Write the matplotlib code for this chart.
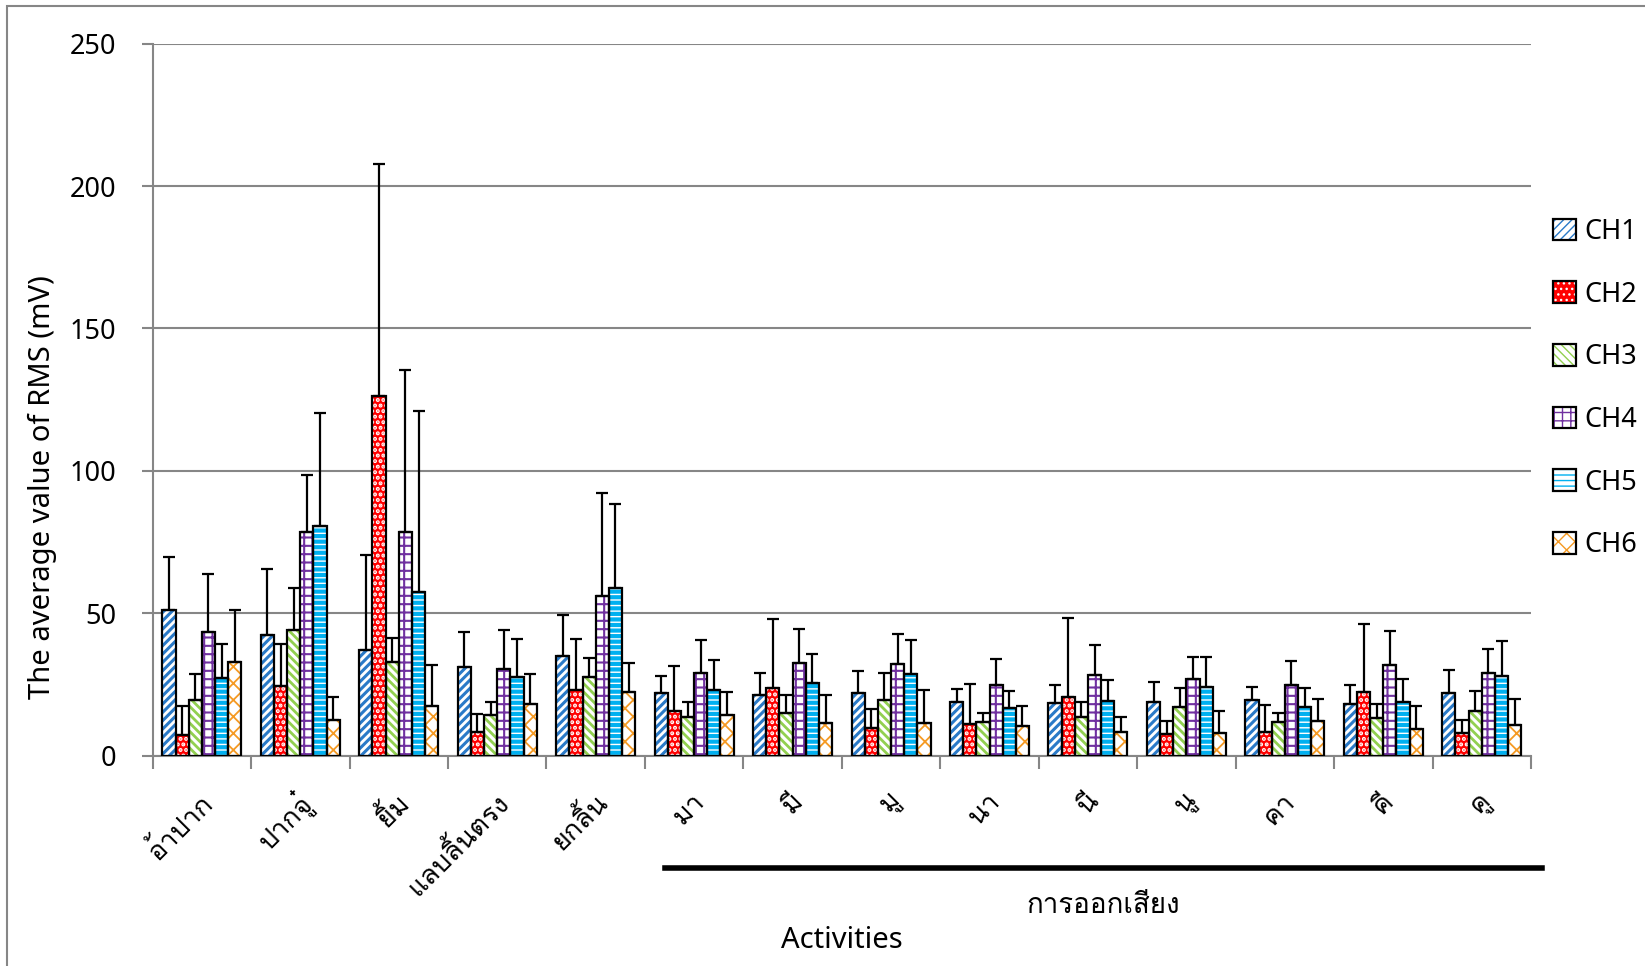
import numpy as np
import matplotlib
matplotlib.use("Agg")
import matplotlib.pyplot as plt
import matplotlib.transforms as mtransforms
from matplotlib import font_manager
from matplotlib.ft2font import FT2Font
from matplotlib.patches import Rectangle


# data (mean RMS and upper SD, mV)
categories = ["อ้าปาก", "ปากจู๋", "ยิ้ม", "แลบลิ้นตรง", "ยกลิ้น",
              "มา", "มี", "มู", "นา", "นี", "นู", "คา", "คี", "คู"]
channels = ["CH1", "CH2", "CH3", "CH4", "CH5", "CH6"]

ch1 = [51.0, 42.4, 37.2, 31.0, 35.1, 22.0, 21.4, 22.0, 18.7, 18.4, 18.9, 19.5, 18.1, 22.0]
ch2 = [7.2, 24.6, 126.4, 8.3, 22.9, 15.8, 23.7, 9.9, 11.1, 20.5, 7.6, 8.2, 22.2, 8.0]
ch3 = [19.4, 44.3, 32.9, 14.2, 27.5, 13.7, 14.9, 19.5, 11.9, 13.7, 17.0, 11.7, 13.1, 15.6]
ch4 = [43.3, 78.5, 78.5, 30.6, 56.2, 29.0, 32.7, 32.2, 24.8, 28.2, 26.9, 24.8, 31.8, 29.2]
ch5 = [27.4, 80.7, 57.4, 27.8, 59.0, 23.0, 25.5, 28.7, 16.7, 19.1, 24.2, 17.0, 18.7, 28.0]
ch6 = [32.9, 12.5, 17.4, 18.1, 22.3, 14.3, 11.5, 11.5, 10.5, 8.2, 7.8, 12.3, 9.4, 10.8]

sd1 = [18.7, 23.3, 33.4, 12.3, 14.3, 6.1, 7.7, 7.8, 4.6, 6.5, 7.1, 4.5, 6.6, 8.2]
sd2 = [10.4, 14.6, 81.5, 6.3, 18.2, 15.8, 24.4, 6.5, 14.0, 27.8, 4.7, 9.7, 24.2, 4.5]
sd3 = [9.3, 14.6, 8.6, 4.5, 6.9, 5.0, 6.5, 9.4, 3.2, 5.2, 6.6, 3.2, 5.0, 7.2]
sd4 = [20.6, 20.2, 56.9, 13.7, 36.2, 11.6, 11.9, 10.5, 9.0, 10.7, 7.8, 8.5, 12.1, 8.3]
sd5 = [11.9, 39.7, 63.8, 13.2, 29.3, 10.6, 10.2, 11.9, 5.9, 7.4, 10.5, 6.6, 8.2, 12.3]
sd6 = [18.2, 8.2, 14.3, 10.6, 10.1, 8.2, 9.9, 11.5, 7.0, 5.3, 8.0, 7.6, 8.1, 9.0]

means = [ch1, ch2, ch3, ch4, ch5, ch6]
sds = [sd1, sd2, sd3, sd4, sd5, sd6]

# looks: face colour, hatch colour, hatch, hatch line width
faces = ["white", "#ff0000", "white", "white", "white", "white"]
hatch_cols = ["#2a7ac8", "white", "#92d050", "#7030a0", "#00b0f0", "#f59a23"]
hatches = ["////", "...", "\\\\\\\\", "++", "---", "xx"]
hatch_lw = [2.2, 2.0, 2.0, 1.5, 3.0, 1.3]

speech_group = "การออกเสียง"


# find some font that can draw Thai, if there is one
def find_thai_font():
    for f in font_manager.fontManager.ttflist:
        try:
            cmap = FT2Font(f.fname).get_charmap()
        except Exception:
            continue
        if 0x0E01 in cmap and 0x0E49 in cmap:
            return f.name
    return None


thai = find_thai_font()
latin = ["Noto Sans", "DejaVu Sans"]
thai_fam = ([thai] if thai else []) + latin

plt.rcParams["font.family"] = latin

fig = plt.figure(figsize=(16.45, 9.66), dpi=100)
ax = fig.add_axes([0.0928, 0.2177, 0.8379, 0.7371])

# outer chart frame
fig.patches.append(Rectangle((7.3 / 1645, -0.05), 1.2, 1.0438,
                             transform=fig.transFigure, fill=False,
                             edgecolor="#868686", linewidth=1.5))

x = np.arange(len(categories))
w = 0.1337
handles = []
for k in range(6):
    pos = x + (k - 2.5) * w
    with plt.rc_context({"hatch.color": hatch_cols[k],
                         "hatch.linewidth": hatch_lw[k]}):
        b = ax.bar(pos, means[k], w, color=faces[k], edgecolor=hatch_cols[k],
                   linewidth=0, hatch=hatches[k], zorder=2)
    for p in b:
        if hasattr(p, "set_hatch_linewidth"):
            p.set_hatch_linewidth(hatch_lw[k])
    o = ax.bar(pos, means[k], w, fill=False, edgecolor="black",
               linewidth=1.6, zorder=3)
    ax.errorbar(pos, means[k], yerr=[np.zeros(len(x)), sds[k]], fmt="none",
                ecolor="black", elinewidth=1.6, capsize=4.2, capthick=1.6,
                zorder=4)
    handles.append((b, o))

ax.set_ylim(0, 250)
ax.set_xlim(-0.5, len(categories) - 0.5)
ax.set_yticks(np.arange(0, 251, 50))
ax.yaxis.grid(True, color="#868686", linewidth=1.5)
ax.set_axisbelow(True)
for s in ["top", "right"]:
    ax.spines[s].set_visible(False)
for s in ["left", "bottom"]:
    ax.spines[s].set_color("#868686")
    ax.spines[s].set_linewidth(1.5)

ax.tick_params(axis="y", direction="out", length=8, width=1.5,
               color="#868686", pad=18, labelsize=19.5)
ax.set_xticks(np.arange(-0.5, len(categories)))
ax.set_xticklabels([])
ax.tick_params(axis="x", which="major", direction="out", length=9,
               width=1.5, color="#868686")
ax.set_xticks(x + 0.07, minor=True)
ax.set_xticklabels(categories, minor=True, rotation=45, ha="right",
                   va="center", rotation_mode="anchor", family=thai_fam,
                   fontsize=19.5)
ax.tick_params(axis="x", which="minor", length=0, pad=30)

# bracket line under the speech items
trans = mtransforms.blended_transform_factory(ax.transData, ax.transAxes)
ax.plot([4.70, 13.61], [-0.158, -0.158], color="black", linewidth=4,
        transform=trans, clip_on=False)
ax.text(9.16, -0.211, speech_group, transform=trans, ha="center",
        va="center", fontsize=20, family=thai_fam)

ax.text(0.5, -0.259, "Activities", transform=ax.transAxes, ha="center",
        va="center", fontsize=21)
fig.text(42 / 1645, 1 - 487 / 966, "The average value of RMS (mV)",
         rotation=90, ha="center", va="center", fontsize=21)

fig.legend(handles, channels, loc="upper left",
           bbox_to_anchor=(1553 / 1645, 1 - 218 / 966), frameon=False,
           borderpad=0, borderaxespad=0, handlelength=0.85, handleheight=0.85,
           labelspacing=1.28, handletextpad=0.3, fontsize=19.5)

fig.savefig("out.png", dpi=100)
